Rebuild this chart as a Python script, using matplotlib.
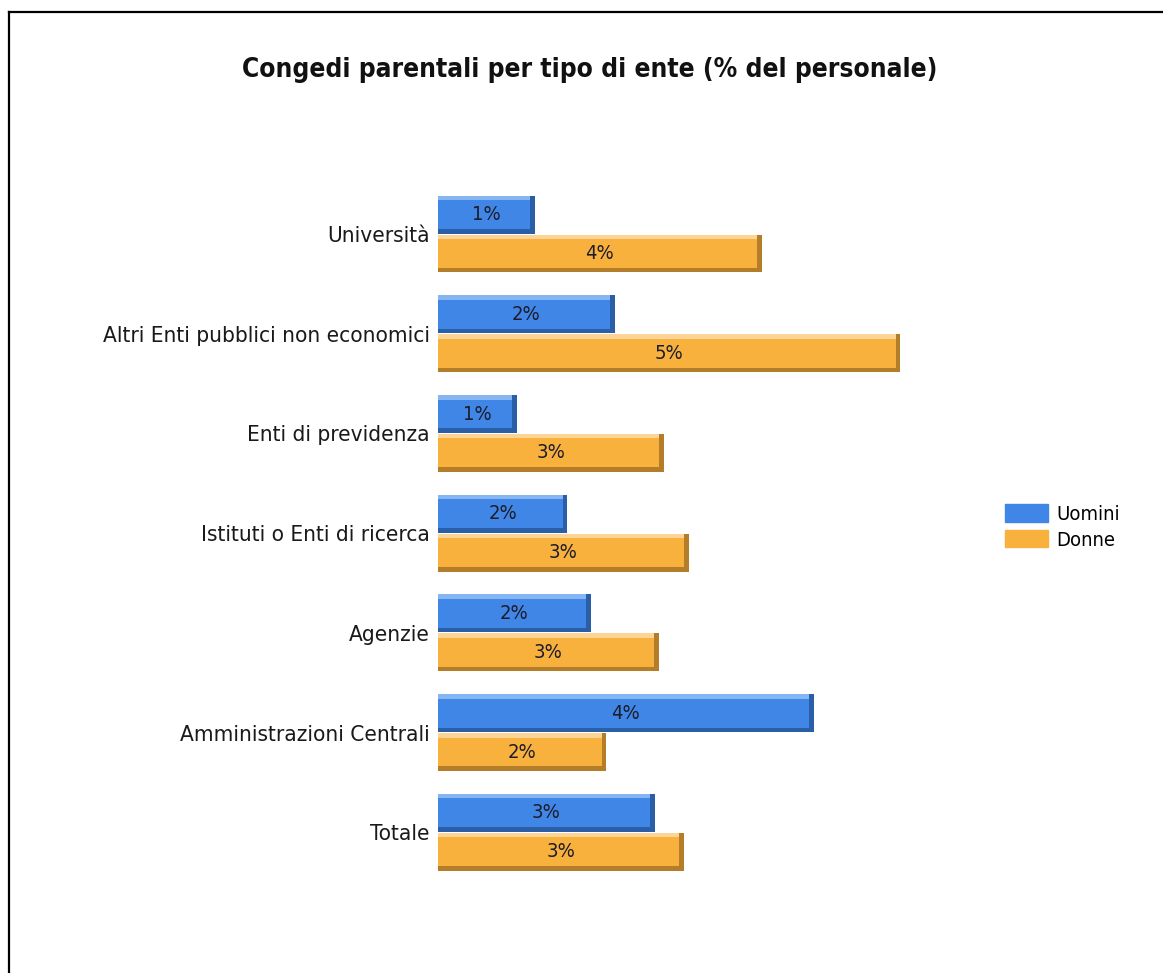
import numpy as np
import matplotlib
matplotlib.use("Agg")
import matplotlib.pyplot as plt
from matplotlib.lines import Line2D
from matplotlib.patches import Patch

# data (percent of staff)
categories = ["Università", "Altri Enti pubblici non economici", "Enti di previdenza",
              "Istituti o Enti di ricerca", "Agenzie", "Amministrazioni Centrali", "Totale"]
uomini = [1.14, 2.08, 0.93, 1.52, 1.80, 4.42, 2.55]
donne = [3.81, 5.44, 2.66, 2.95, 2.60, 1.98, 2.89]
series_names = ["Uomini", "Donne"]

narrow = ["DejaVu Sans"]

blue = "#3f86e6"
blue_light = "#86b6f2"
blue_dark = "#2a5ea6"
orange = "#f9b13e"
orange_light = "#fcd596"
orange_dark = "#b47d2a"

fig = plt.figure(figsize=(11.63, 9.73), dpi=100)
ax = fig.add_axes([0.3766, 0.0524, 0.4385, 0.7993])

y = np.arange(len(categories))
h = 0.38
strip = 0.045
edge = 0.055


def bevel_bars(pos, vals, main, light, dark):
    vals = np.array(vals)
    ax.barh(pos, vals, height=h, color=main, zorder=2)
    # light top strip, dark bottom strip, dark right edge
    ax.barh(pos - h / 2 + strip / 2, vals, height=strip, color=light, zorder=3)
    ax.barh(pos + h / 2 - strip / 2, vals, height=strip, color=dark, zorder=3)
    ax.barh(pos, np.full(len(vals), edge), left=vals - edge, height=h, color=dark, zorder=4)
    for p, v in zip(pos, vals):
        ax.text(v / 2, p, f"{v:.0f}%", ha="center", va="center",
                fontsize=14.5, color="#1c1c2a", family=narrow, stretch="condensed", zorder=5)


bevel_bars(y - 0.195, uomini, blue, blue_light, blue_dark)
bevel_bars(y + 0.195, donne, orange, orange_light, orange_dark)

ax.set_xlim(0, 6)
ax.set_ylim(6.9, -0.9)
ax.set_yticks(y)
ax.set_yticklabels(categories, family=narrow, fontsize=16.2, color="#1a1a1a", stretch="condensed")
ax.tick_params(axis="y", length=0, pad=6)
ax.set_xticks([])
for s in ax.spines.values():
    s.set_visible(False)

fig.text(590 / 1163, 1 - 70 / 973, "Congedi parentali per tipo di ente (% del personale)",
         ha="center", va="center", fontsize=18.9, fontweight="bold", color="#111111",
         family=narrow, stretch="condensed")

handles = [Patch(color=blue), Patch(color=orange)]
fig.legend(handles, series_names, loc="center left", bbox_to_anchor=(987 / 1163, 1 - 527 / 973),
           frameon=False, handlelength=2.15, handleheight=0.95, labelspacing=0.3,
           handletextpad=0.4, prop={"family": narrow, "size": 14.5, "stretch": "condensed"})

# outer frame (left and top edges visible)
fig.add_artist(Line2D([8.5 / 1163, 8.5 / 1163], [0, 1 - 11.5 / 973], color="black", lw=1.6,
                      transform=fig.transFigure))
fig.add_artist(Line2D([8.5 / 1163, 1], [1 - 11.5 / 973, 1 - 11.5 / 973], color="black", lw=1.6,
                      transform=fig.transFigure))

fig.savefig("out.png", dpi=100, facecolor="white")
